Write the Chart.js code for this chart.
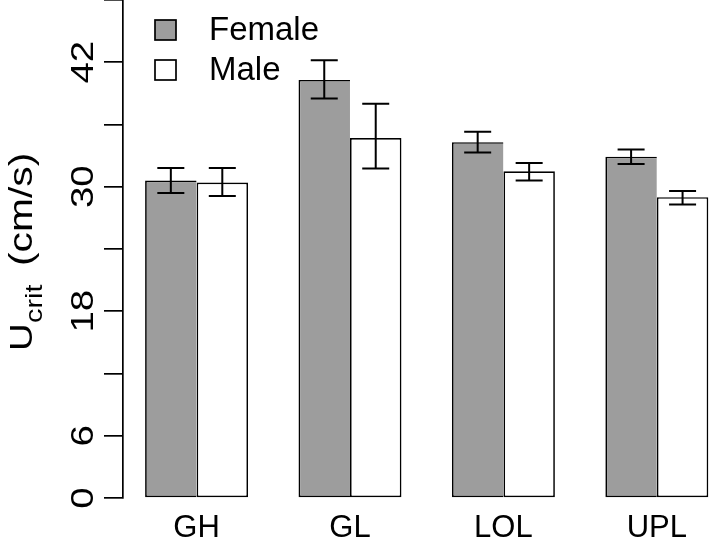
<!DOCTYPE html>
<html>
<head>
<meta charset="utf-8">
<script src="https://cdn.jsdelivr.net/npm/chart.js@4"></script>
<style>
  html, body { margin: 0; padding: 0; background: #fff; overflow: hidden; }
  canvas { display: block; }
</style>
</head>
<body>
<canvas id="myChart" width="709" height="541"></canvas>
<script>
// groups on the x axis
const groups = ['GH', 'GL', 'LOL', 'UPL'];
// mean Ucrit (cm/s)
const female = [30.6, 40.3, 34.3, 32.9];
const male = [30.4, 34.7, 31.5, 29.0];
// error bar ends
const femaleLow = [29.4, 38.5, 33.3, 32.2];
const femaleHigh = [31.8, 42.2, 35.3, 33.6];
const maleLow = [29.1, 31.75, 30.6, 28.3];
const maleHigh = [31.8, 38.0, 32.3, 29.6];
// y axis
const yTicks = [0, 6, 12, 18, 24, 30, 36, 42, 48];
const yLabels = [0, 6, 18, 30, 42];

const FONT = '"Liberation Sans", Arial, Helvetica, sans-serif';
const STRETCH = 1.2; // rotated text in the original is drawn wider

const toPoints = arr => arr.map((v, i) => ({ x: i, y: v }));

const errors = [[femaleLow, femaleHigh], [maleLow, maleHigh]];

const errorBars = {
  id: 'errorBars',
  afterDatasetsDraw(chart) {
    const ctx = chart.ctx, y = chart.scales.y;
    ctx.save();
    ctx.strokeStyle = '#000';
    ctx.lineWidth = 2;
    errors.forEach((pair, d) => {
      chart.getDatasetMeta(d).data.forEach((bar, i) => {
        const top = y.getPixelForValue(pair[1][i]);
        const bot = y.getPixelForValue(pair[0][i]);
        ctx.beginPath();
        ctx.moveTo(bar.x, top); ctx.lineTo(bar.x, bot);
        ctx.moveTo(bar.x - 13.5, top); ctx.lineTo(bar.x + 13.5, top);
        ctx.moveTo(bar.x - 13.5, bot); ctx.lineTo(bar.x + 13.5, bot);
        ctx.stroke();
      });
    });
    ctx.restore();
  }
};

// rotated y tick labels, title with subscript, legend
const decor = {
  id: 'decor',
  afterDraw(chart) {
    const ctx = chart.ctx, y = chart.scales.y;
    ctx.save();
    ctx.fillStyle = '#000';
    ctx.font = '32px ' + FONT;
    ctx.textAlign = 'center';
    ctx.textBaseline = 'alphabetic';
    yLabels.forEach(v => {
      ctx.save();
      ctx.translate(93, y.getPixelForValue(v));
      ctx.rotate(-Math.PI / 2);
      ctx.scale(STRETCH, 1);
      ctx.fillText(String(v), 0, 0);
      ctx.restore();
    });

    // axis title
    ctx.save();
    ctx.translate(32, 351);
    ctx.rotate(-Math.PI / 2);
    ctx.scale(STRETCH, 1);
    ctx.textAlign = 'left';
    ctx.font = '32px ' + FONT;
    ctx.fillText('U', 0, 0);
    ctx.font = '24px ' + FONT;
    ctx.fillText('crit', 28 / STRETCH, 10);
    ctx.font = '34px ' + FONT;
    ctx.fillText('(cm/s)', 85 / STRETCH, 0);
    ctx.restore();

    // legend
    ctx.font = '33px ' + FONT;
    ctx.textAlign = 'left';
    ctx.textBaseline = 'middle';
    chart.data.datasets.forEach((ds, i) => {
      const cy = 30 + i * 40;
      ctx.fillStyle = ds.backgroundColor;
      ctx.fillRect(155, cy - 10, 21, 20);
      ctx.strokeStyle = '#000';
      ctx.lineWidth = 1.7;
      ctx.strokeRect(155, cy - 10, 21, 20);
      ctx.fillStyle = '#000';
      ctx.fillText(ds.label, 209, cy + 1);
    });
    ctx.restore();
  }
};

new Chart(document.getElementById('myChart'), {
  type: 'bar',
  data: {
    datasets: [
      {
        label: 'Female',
        data: toPoints(female),
        backgroundColor: '#9d9d9d',
        borderColor: '#000',
        borderWidth: 1.7,
        borderSkipped: 'right'
      },
      {
        label: 'Male',
        data: toPoints(male),
        backgroundColor: '#ffffff',
        borderColor: '#000',
        borderWidth: 1.7,
        borderSkipped: false
      }
    ]
  },
  options: {
    responsive: false,
    animation: false,
    categoryPercentage: 0.671,
    barPercentage: 1,
    layout: { padding: 0 },
    plugins: {
      legend: { display: false },
      tooltip: { enabled: false }
    },
    scales: {
      x: {
        type: 'linear',
        offset: false,
        min: -0.4795,
        max: 3.340,
        grid: { display: false, offset: false },
        border: { display: false },
        afterBuildTicks: s => { s.ticks = groups.map((g, i) => ({ value: i })); },
        afterFit: s => { s.height = 43; },
        ticks: {
          autoSkip: false,
          maxRotation: 0,
          padding: 4,
          color: '#000',
          font: { family: FONT, size: 31 },
          callback: v => groups[v]
        }
      },
      y: {
        min: 0,
        max: 48,
        afterBuildTicks: s => { s.ticks = yTicks.map(v => ({ value: v })); },
        afterFit: s => { s.width = 123; },
        grid: {
          drawOnChartArea: false,
          drawTicks: true,
          tickLength: 19,
          color: '#000',
          lineWidth: 1.7
        },
        border: { display: true, color: '#000', width: 1.7 },
        ticks: { display: false }
      }
    }
  },
  plugins: [errorBars, decor]
});
</script>
</body>
</html>
